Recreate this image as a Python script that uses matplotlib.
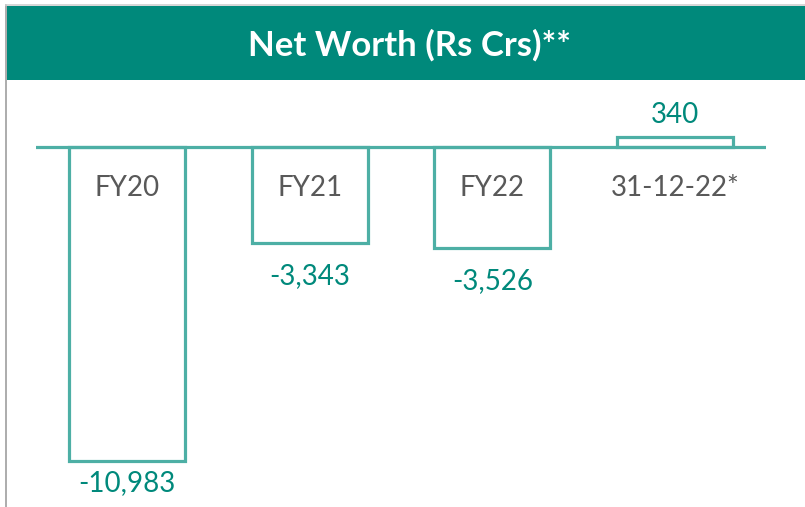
import matplotlib
matplotlib.use("Agg")
import matplotlib.pyplot as plt
from matplotlib.patches import Rectangle
from matplotlib.lines import Line2D

categories = ["FY20", "FY21", "FY22", "31-12-22*"]
values = [-10983, -3343, -3526, 340]
value_labels = ["-10,983", "-3,343", "-3,526", "340"]
title = "Net Worth (Rs Crs)**"

TEAL = "#00897B"
EDGE = "#4DAFA5"
GRAY = "#595959"
FONT = ["Lato", "DejaVu Sans"]

W, H = 805, 507
fig = plt.figure(figsize=(W / 100, H / 100), dpi=100)
fig.patch.set_facecolor("white")

# banner and borders
fig.patches.append(Rectangle((7 / W, (H - 80) / H), 1 - 7 / W, 74 / H,
                             transform=fig.transFigure, facecolor=TEAL,
                             edgecolor="none", zorder=0))
fig.lines.append(Line2D([6 / W, 6 / W], [0, (H - 5) / H], transform=fig.transFigure,
                        color="#9E9E9E", lw=1.2))
fig.lines.append(Line2D([6 / W, 1], [(H - 5) / H, (H - 5) / H], transform=fig.transFigure,
                        color="#D0D0D0", lw=1.2))
fig.text(409 / W, (H - 45) / H, title, color="white", fontsize=25,
         fontweight="bold", family=FONT, ha="center", va="center")

# axes
left_px, right_px, top_px, bot_px = 36, 766, 85, 505
ax = fig.add_axes([left_px / W, (H - bot_px) / H, (right_px - left_px) / W,
                   (bot_px - top_px) / H])
ax.set_axis_off()
ax.set_xlim(-0.5, len(categories) - 0.5)
units_per_px = 10983 / 314.0
ax.set_ylim(-(bot_px - 147) * units_per_px, (147 - top_px) * units_per_px)

x = list(range(len(categories)))
ax.bar(x, values, width=0.635, facecolor="white", edgecolor=EDGE,
       linewidth=2.3, zorder=2)
ax.axhline(0, color=EDGE, lw=2.3, zorder=3)

label_offsets = [-22, -33, -33, 22]  # px from bar end to label centre
for xi, v, lab, off in zip(x, values, value_labels, label_offsets):
    ax.annotate(lab, (xi, v), xytext=(0, off * 0.72), textcoords="offset points",
                ha="center", va="center", color=TEAL, fontsize=20, family=FONT)
for xi, c in zip(x, categories):
    ax.annotate(c, (xi, 0), xytext=(0, -41 * 0.72), textcoords="offset points",
                ha="center", va="center", color=GRAY, fontsize=20, family=FONT)

fig.savefig("out.png", dpi=100, facecolor="white")
